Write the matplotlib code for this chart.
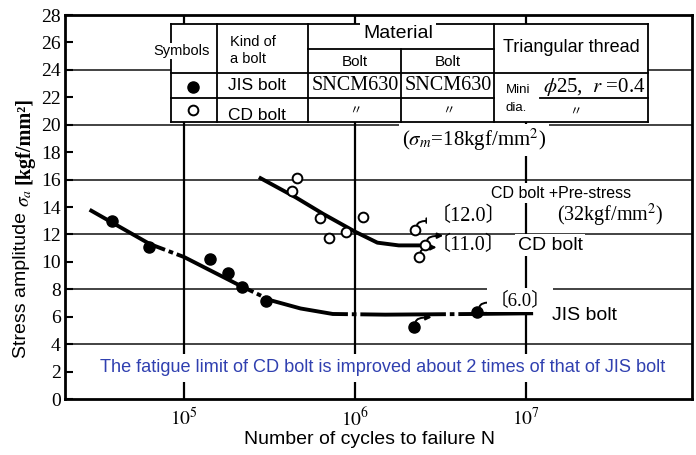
import matplotlib
matplotlib.use("Agg")
import matplotlib.pyplot as plt
from matplotlib.transforms import Affine2D, offset_copy
from matplotlib.lines import Line2D
from matplotlib.patches import Rectangle

plt.rcParams['mathtext.fontset'] = 'stix'
SERIF = ['Liberation Serif', 'Noto Sans CJK JP']
SANS = 'Liberation Sans'

# test points
jis_n = [3.8e4, 6.2e4, 1.42e5, 1.81e5, 2.18e5, 3.0e5, 2.2e6, 5.2e6]
jis_s = [13.0, 11.1, 10.2, 9.2, 8.2, 7.15, 5.25, 6.35]
jis_runout_n = [2.2e6, 5.2e6]
jis_runout_s = [5.25, 6.35]

cd_n = [4.6e5, 4.3e5, 6.2e5, 7.0e5, 8.9e5, 1.11e6, 2.24e6, 2.57e6, 2.35e6]
cd_s = [16.1, 15.2, 13.2, 11.75, 12.2, 13.3, 12.3, 11.2, 10.35]
cd_runout_n = [2.24e6, 2.57e6, 2.35e6]
cd_runout_s = [12.3, 11.2, 10.35]

# hand drawn S-N curves
jis_curve_n = [2.8e4, 6.3e4, 1.0e5, 2.1e5, 3.2e5, 4.8e5, 7.4e5, 1.5e6, 5.0e6, 1.1e7]
jis_curve_s = [13.8, 11.3, 10.35, 8.3, 7.2, 6.6, 6.2, 6.15, 6.2, 6.25]
cd_curve_n = [2.8e5, 4.5e5, 6.5e5, 1.0e6, 1.35e6, 1.8e6, 2.4e6]
cd_curve_s = [16.1, 14.7, 13.5, 12.2, 11.4, 11.2, 11.2]

y_ticks = list(range(0, 29, 2))
x_ticks = [1e5, 1e6, 1e7]
x_labels = [r'$10^5$', r'$10^6$', r'$10^7$']
grid_y = [4, 8, 12, 16, 20, 24]

W, H = 696, 455
fig = plt.figure(figsize=(W / 100, H / 100), dpi=100)
ax = fig.add_axes([65 / W, 1 - 399 / H, (692 - 65) / W, (399 - 15) / H])
px = Affine2D().scale(1 / W, -1 / H).translate(0, 1) + fig.transFigure

ax.set_xscale('log')
ax.set_xlim(2.01e4, 9.35e7)
ax.set_ylim(0, 28)

for g in grid_y:
    ax.axhline(g, color='#222222', lw=1.2, zorder=1)
for g in x_ticks:
    ax.axvline(g, color='black', lw=1.6, zorder=1)

ax.plot(jis_curve_n, jis_curve_s, color='black', lw=2.8, dashes=(22, 1.0, 1.2, 1.0), zorder=4)
ax.plot(cd_curve_n, cd_curve_s, color='black', lw=2.8, zorder=4)
ax.plot(jis_n, jis_s, 'o', ms=8, color='black', zorder=5)
ax.plot(cd_n, cd_s, 'o', ms=7, mfc='white', mec='black', mew=1.4, zorder=5)

# run-out arrows: up from the top of the point, then to the right
tail = offset_copy(ax.transData, fig=fig, x=1.5, y=3.5, units='points')
head = offset_copy(ax.transData, fig=fig, x=13, y=7, units='points')
for n, s in list(zip(jis_runout_n, jis_runout_s)) + list(zip(cd_runout_n, cd_runout_s)):
    ax.annotate('', xy=(n, s), xycoords=head, xytext=(n, s), textcoords=tail,
                arrowprops=dict(arrowstyle='-|>', color='black', lw=1.4,
                                mutation_scale=8, shrinkA=0, shrinkB=0,
                                connectionstyle='angle3,angleA=90,angleB=0'), zorder=4)

ax.set_yticks(y_ticks)
ax.set_xticks(x_ticks)
ax.set_xticklabels(x_labels)
ax.minorticks_off()
ax.tick_params(axis='y', direction='in', length=6, width=1.5, pad=3)
ax.tick_params(axis='x', direction='in', length=0, pad=6)
for lab in ax.get_yticklabels() + ax.get_xticklabels():
    lab.set_family(SERIF)
    lab.set_fontsize(14)
for sp in ax.spines.values():
    sp.set_linewidth(2)

fig.text(22, 285, 'Stress amplitude', transform=px, rotation=90, ha='center', va='center',
         family=SANS, fontsize=14)
fig.text(24, 198, r'$\sigma_a$', transform=px, rotation=90, ha='center', va='center',
         fontsize=14)
fig.text(25, 140, '[kgf/mm²]', transform=px, rotation=90, ha='center', va='center',
         family=SERIF, fontsize=14.5, weight='bold')
fig.text(369, 440, 'Number of cycles to failure N', transform=px, ha='center', va='center',
         family=SANS, fontsize=14)

# legend / material table
fig.add_artist(Rectangle((171, 24), 477, 98, transform=px, facecolor='white',
                         edgecolor='none', zorder=2))
for y, x0, x1 in [(24, 171, 648), (49, 308, 494), (73, 171, 648), (98, 171, 494),
                  (98, 540, 648), (122, 171, 648)]:
    fig.add_artist(Line2D([x0, x1], [y, y], transform=px, color='black', lw=1.3, zorder=3))
for x, y0, y1 in [(171, 24, 122), (217, 24, 122), (308, 24, 122), (401, 49, 122),
                  (494, 24, 122), (648, 24, 122)]:
    fig.add_artist(Line2D([x, x], [y0, y1], transform=px, color='black', lw=1.3, zorder=3))


def t(x, y, s, size, family=SANS, **kw):
    kw.setdefault('ha', 'center')
    kw.setdefault('va', 'center')
    return fig.text(x, y, s, transform=px, fontsize=size, family=family, zorder=4, **kw)


t(182, 51, 'Symbols', 10.5, bbox=dict(fc='white', ec='none', pad=1))
t(230, 42, 'Kind of', 10.5, ha='left')
t(230, 59, 'a bolt', 10.5, ha='left')
t(228, 86, 'JIS bolt', 12.5, ha='left')
t(228, 116, 'CD bolt', 12.5, ha='left')
fig.add_artist(Line2D([193], [87], transform=px, marker='o', ms=8, color='black', zorder=4))
fig.add_artist(Line2D([193], [110], transform=px, marker='o', ms=7, mfc='white',
                      mec='black', mew=1.4, zorder=4))
t(398, 33, 'Material', 14, bbox=dict(fc='white', ec='none', pad=2))
t(355, 62, 'Bolt', 11)
t(448, 62, 'Bolt', 11)
t(571, 48, 'Triangular thread', 13)
t(355, 86, 'SNCM630', 14.5, family=SERIF)
t(448, 86, 'SNCM630', 14.5, family=SERIF)
t(355, 111, '〃', 9, family='Noto Sans CJK JP')
t(448, 111, '〃', 9, family='Noto Sans CJK JP')
t(575, 112, '〃', 9, family='Noto Sans CJK JP')
t(506, 90, 'Mini', 9.5, ha='left')
t(506, 108, 'dia.', 9.5, ha='left')
t(594, 87, r'$\phi$25,  $r$ =0.4', 15, family=SERIF)

white = dict(fc='white', ec='none', pad=2)
t(474, 140, r'($\sigma_m$=18kgf/mm$^2$)', 15, family=SERIF, bbox=white)
t(561, 193, 'CD bolt +Pre-stress', 11.5, bbox=white)
t(610, 215, '(32kgf/mm$^2$)', 14.5, family=SERIF, bbox=white)
t(468, 216, '〔12.0〕', 14.5, family=SERIF, bbox=white)
t(468, 245, '〔11.0〕', 14.5, family=SERIF)
t(550, 245, 'CD bolt', 14, bbox=white)
t(520, 300, '〔6.0〕', 13.5, family=SERIF, bbox=white)
t(584, 315, 'JIS bolt', 14, bbox=white)
t(383, 368, 'The fatigue limit of CD bolt is improved about 2 times of that of JIS bolt',
  13.1, color='#3040b0', bbox=dict(fc='white', ec='none', pad=4))

fig.savefig('out.png', dpi=100)
plt.close(fig)
